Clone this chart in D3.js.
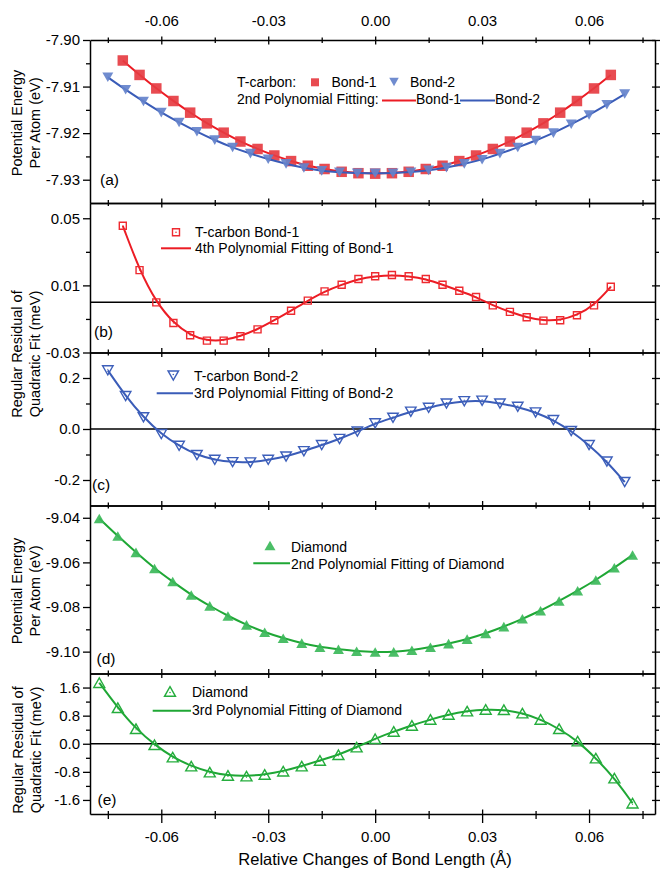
<!DOCTYPE html>
<html>
<head>
<meta charset="utf-8">
<script src="https://cdn.jsdelivr.net/npm/d3@7"></script>
<style>
  body { margin: 0; background: #fff; }
  svg text { font-family: "Liberation Sans", Arial, sans-serif; fill: #000; }
</style>
</head>
<body>
<svg id="chart" width="660" height="869"></svg>
<script>
// ---- Relative bond-length changes (Å) ----
const bond1Strain = [-0.0708, -0.0661, -0.0614, -0.0566, -0.0519, -0.0472, -0.0425, -0.0378, -0.0330, -0.0283,
  -0.0236, -0.0189, -0.0142, -0.0094, -0.0047, 0.0000, 0.0047, 0.0094, 0.0142, 0.0189,
  0.0236, 0.0283, 0.0330, 0.0378, 0.0425, 0.0472, 0.0519, 0.0566, 0.0614, 0.0661];
const bond2Strain = [-0.075, -0.070, -0.065, -0.060, -0.055, -0.050, -0.045, -0.040, -0.035, -0.030,
  -0.025, -0.020, -0.015, -0.010, -0.005, 0.000, 0.005, 0.010, 0.015, 0.020,
  0.025, 0.030, 0.035, 0.040, 0.045, 0.050, 0.055, 0.060, 0.065, 0.070];
const diamondStrain = [-0.0774, -0.0722, -0.0671, -0.0619, -0.0568, -0.0516, -0.0464, -0.0413, -0.0361, -0.0310,
  -0.0258, -0.0206, -0.0155, -0.0103, -0.0052, 0.0000, 0.0052, 0.0103, 0.0155, 0.0206,
  0.0258, 0.0310, 0.0361, 0.0413, 0.0464, 0.0516, 0.0568, 0.0619, 0.0671, 0.0722];

// ---- (a) T-carbon potential energy per atom (eV) ----
const bond1Energy = [-7.9044, -7.9075, -7.9104, -7.9131, -7.9156, -7.9179, -7.9199, -7.9218, -7.9234, -7.9248,
  -7.9260, -7.9270, -7.9277, -7.9283, -7.9286, -7.9287, -7.9286, -7.9283, -7.9277, -7.9270,
  -7.9260, -7.9248, -7.9234, -7.9218, -7.9199, -7.9179, -7.9156, -7.9131, -7.9104, -7.9075];
const bond2Energy = [-7.9080, -7.9107, -7.9132, -7.9156, -7.9177, -7.9197, -7.9215, -7.9231, -7.9244, -7.9256,
  -7.9266, -7.9275, -7.9281, -7.9284, -7.9286, -7.9286, -7.9286, -7.9284, -7.9280, -7.9274,
  -7.9266, -7.9257, -7.9244, -7.9231, -7.9216, -7.9200, -7.9181, -7.9161, -7.9139, -7.9116];

// ---- (b), (c) residuals of the quadratic fit (meV) ----
const bond1Residual = [0.0455, 0.0191, -0.0001, -0.0124, -0.0197, -0.0229, -0.0229, -0.0203, -0.0162, -0.0108,
  -0.0051, 0.0009, 0.0064, 0.0104, 0.0138, 0.0154, 0.0162, 0.0154, 0.0138, 0.0104,
  0.0068, 0.0031, -0.0019, -0.0058, -0.0090, -0.0110, -0.0108, -0.0078, -0.0019, 0.0092];
const bond2Residual = [0.230, 0.129, 0.046, -0.020, -0.066, -0.102, -0.121, -0.130, -0.131, -0.121,
  -0.108, -0.087, -0.063, -0.039, -0.010, 0.022, 0.044, 0.068, 0.083, 0.100,
  0.109, 0.111, 0.100, 0.087, 0.065, 0.035, -0.008, -0.063, -0.128, -0.208];

// ---- (d) diamond potential energy per atom (eV), (e) residual (meV) ----
const diamondEnergy = [-9.0403, -9.0482, -9.0555, -9.0627, -9.0686, -9.0746, -9.0795, -9.0840, -9.0880, -9.0913,
  -9.0940, -9.0962, -9.0980, -9.0989, -9.0998, -9.1002, -9.1001, -9.0994, -9.0980, -9.0964,
  -9.0944, -9.0918, -9.0888, -9.0853, -9.0817, -9.0773, -9.0727, -9.0679, -9.0624, -9.0567];
const diamondResidual = [1.737, 1.025, 0.427, -0.029, -0.381, -0.637, -0.808, -0.903, -0.922, -0.875,
  -0.780, -0.637, -0.476, -0.314, -0.096, 0.142, 0.350, 0.521, 0.692, 0.835,
  0.930, 0.977, 0.968, 0.873, 0.692, 0.427, 0.075, -0.409, -0.979, -1.691];

// ---- tick values ----
const strainTicks = [-0.06, -0.03, 0.00, 0.03, 0.06];
const strainMinorTicks = [-0.075, -0.045, -0.015, 0.015, 0.045, 0.075];
const ticksA = [-7.90, -7.91, -7.92, -7.93];
const minorA = [-7.905, -7.915, -7.925];
const ticksB = [0.05, 0.01, -0.03];
const minorB = [0.03, -0.01];
const ticksC = [0.2, 0.0, -0.2];
const minorC = [0.1, -0.1];
const ticksD = [-9.04, -9.06, -9.08, -9.10];
const minorD = [-9.05, -9.07, -9.09];
const ticksE = [1.6, 0.8, 0.0, -0.8, -1.6];
const minorE = [1.2, 0.4, -0.4, -1.2];

// ---- styling ----
const RED_FILL = "#e63c42", RED_LINE = "#ec1c24", RED_OPEN = "#ee2a30";
const BLUE_FILL = "#6482cb", BLUE_LINE = "#3a5cb8", BLUE_OPEN = "#3d5fba";
const GREEN_FILL = "#3cb95a", GREEN_LINE = "#1fa735", GREEN_OPEN = "#25ad3d";
const TICK_FONT = 15;

const svg = d3.select("#chart");
const L = 90, R = 655;
const x = d3.scaleLinear().domain([-0.08, 0.0785]).range([L, R]);

// custom marker shapes (centred on the bounding box)
function shape(kind) {
  return {
    draw(ctx, size) {
      const w = Math.sqrt(size), h = w * 0.87;
      if (kind === "square") { ctx.rect(-w / 2, -w / 2, w, w); }
      else if (kind === "up") { ctx.moveTo(0, -h / 2); ctx.lineTo(w / 2, h / 2); ctx.lineTo(-w / 2, h / 2); ctx.closePath(); }
      else { ctx.moveTo(-w / 2, -h / 2); ctx.lineTo(w / 2, -h / 2); ctx.lineTo(0, h / 2); ctx.closePath(); }
    }
  };
}
function marker(kind, w) { return d3.symbol().type(shape(kind)).size(w * w)(); }

const fmt = n => v => v.toFixed(n);

const panels = [
  { key: "a", top: 40, bottom: 203, domain: [-7.935, -7.90], ticks: ticksA, minor: minorA, fmt: fmt(2) },
  { key: "b", top: 203, bottom: 352.5, domain: [-0.03, 0.0591], ticks: ticksB, minor: minorB, fmt: fmt(2), zero: true },
  { key: "c", top: 352.5, bottom: 505.5, domain: [-0.3, 0.3], ticks: ticksC, minor: minorC, fmt: fmt(1), zero: true },
  { key: "d", top: 505.5, bottom: 673.5, domain: [-9.1098, -9.0345], ticks: ticksD, minor: minorD, fmt: fmt(2) },
  { key: "e", top: 673.5, bottom: 814, domain: [-2, 2], ticks: ticksE, minor: minorE, fmt: fmt(1), zero: true }
];

function styleAxis(g) {
  g.selectAll(".domain").attr("stroke", "#000").attr("stroke-width", 1.5);
  g.selectAll(".tick line").attr("stroke", "#000").attr("stroke-width", 1.3);
  g.selectAll(".tick text").attr("font-size", TICK_FONT).attr("fill", "#000")
    .attr("font-family", "'Liberation Sans', Arial, sans-serif");
}

const Y = {};
panels.forEach((p, i) => {
  const y = d3.scaleLinear().domain(p.domain).range([p.bottom, p.top]);
  Y[p.key] = y;
  const g = svg.append("g").attr("class", "panel-" + p.key);

  // zero reference line
  if (p.zero) {
    g.append("line").attr("x1", L).attr("x2", R).attr("y1", y(0)).attr("y2", y(0))
      .attr("stroke", "#000").attr("stroke-width", 1.5);
  }

  // left axis with labels
  g.append("g").attr("transform", `translate(${L},0)`)
    .call(d3.axisLeft(y).tickValues(p.ticks).tickSize(7).tickPadding(3).tickSizeOuter(0).tickFormat(p.fmt))
    .call(a => styleAxis(a));
  g.append("g").attr("transform", `translate(${L},0)`)
    .call(d3.axisLeft(y).tickValues(p.minor).tickSize(4).tickSizeOuter(0).tickFormat(""))
    .call(a => { styleAxis(a); a.select(".domain").remove(); });

  // right axis, ticks crossing the frame
  g.append("g").attr("transform", `translate(${R},0)`)
    .call(d3.axisRight(y).tickValues(p.ticks).tickSize(5).tickSizeOuter(0).tickFormat(""))
    .call(a => styleAxis(a));
  g.append("g").attr("transform", `translate(${R},0)`)
    .call(d3.axisLeft(y).tickValues(p.ticks).tickSize(3).tickSizeOuter(0).tickFormat(""))
    .call(a => { styleAxis(a); a.select(".domain").remove(); });
  g.append("g").attr("transform", `translate(${R},0)`)
    .call(d3.axisRight(y).tickValues(p.minor).tickSize(4).tickSizeOuter(0).tickFormat(""))
    .call(a => { styleAxis(a); a.select(".domain").remove(); });

  // inward ticks on the top and bottom frame lines
  g.append("g").attr("transform", `translate(0,${p.top})`)
    .call(d3.axisBottom(x).tickValues(strainTicks).tickSize(4.5).tickSizeOuter(0).tickFormat(""))
    .call(a => styleAxis(a));
  g.append("g").attr("transform", `translate(0,${p.top})`)
    .call(d3.axisBottom(x).tickValues(strainMinorTicks).tickSize(3).tickSizeOuter(0).tickFormat(""))
    .call(a => { styleAxis(a); a.select(".domain").remove(); });
  g.append("g").attr("transform", `translate(0,${p.bottom})`)
    .call(d3.axisTop(x).tickValues(strainTicks).tickSize(4.5).tickSizeOuter(0).tickFormat(""))
    .call(a => styleAxis(a));
  g.append("g").attr("transform", `translate(0,${p.bottom})`)
    .call(d3.axisTop(x).tickValues(strainMinorTicks).tickSize(3).tickSizeOuter(0).tickFormat(""))
    .call(a => { styleAxis(a); a.select(".domain").remove(); });

  if (i === 0) {
    // labelled top axis
    svg.append("g").attr("transform", `translate(0,${p.top})`)
      .call(d3.axisTop(x).tickValues(strainTicks).tickSize(3.5).tickPadding(10.5).tickSizeOuter(0).tickFormat(fmt(2)))
      .call(a => { styleAxis(a); a.select(".domain").remove(); });
    svg.append("g").attr("transform", `translate(0,${p.top})`)
      .call(d3.axisTop(x).tickValues(strainMinorTicks).tickSize(2.5).tickSizeOuter(0).tickFormat(""))
      .call(a => { styleAxis(a); a.select(".domain").remove(); });
  }
  if (i === panels.length - 1) {
    // labelled bottom axis
    svg.append("g").attr("transform", `translate(0,${p.bottom})`)
      .call(d3.axisBottom(x).tickValues(strainTicks).tickSize(9).tickPadding(8).tickSizeOuter(0).tickFormat(fmt(2)))
      .call(a => { styleAxis(a); a.select(".domain").remove(); });
    svg.append("g").attr("transform", `translate(0,${p.bottom})`)
      .call(d3.axisBottom(x).tickValues(strainMinorTicks).tickSize(5).tickSizeOuter(0).tickFormat(""))
      .call(a => { styleAxis(a); a.select(".domain").remove(); });
  }
});

// ---- series ----
function series(key, xs, ys, opt) {
  const y = Y[key];
  const pts = d3.zip(xs, ys);
  const g = svg.append("g");
  g.append("path").datum(pts)
    .attr("d", d3.line().x(d => x(d[0])).y(d => y(d[1])).curve(d3.curveBasis))
    .attr("fill", "none").attr("stroke", opt.line).attr("stroke-width", 2);
  const m = g.selectAll(null).data(pts).enter().append("g")
    .attr("transform", d => `translate(${x(d[0])},${y(d[1])})`);
  m.append("path").attr("d", marker(opt.shape, opt.size))
    .attr("fill", opt.open ? "none" : opt.fill)
    .attr("fill-opacity", opt.open ? null : 0.92)
    .attr("stroke", opt.open ? opt.stroke : "none")
    .attr("stroke-width", opt.open ? 1.4 : 0);
  if (opt.open) {
    m.append("circle").attr("r", 0.6).attr("fill", opt.stroke)
      .attr("cy", opt.shape === "up" ? 1 : opt.shape === "down" ? -1 : 0);
  }
}

series("a", bond1Strain, bond1Energy, { line: RED_LINE, fill: RED_FILL, shape: "square", size: 10.5 });
series("a", bond2Strain, bond2Energy, { line: BLUE_LINE, fill: BLUE_FILL, shape: "down", size: 11 });
series("b", bond1Strain, bond1Residual, { line: RED_LINE, stroke: RED_OPEN, shape: "square", size: 7, open: true });
series("c", bond2Strain, bond2Residual, { line: BLUE_LINE, stroke: BLUE_OPEN, shape: "down", size: 10.5, open: true });
series("d", diamondStrain, diamondEnergy, { line: GREEN_LINE, fill: GREEN_FILL, shape: "up", size: 11 });
series("e", diamondStrain, diamondResidual, { line: GREEN_LINE, stroke: GREEN_OPEN, shape: "up", size: 11, open: true });

// ---- legends ----
const leg = svg.append("g").attr("font-size", 14);
function legText(tx, ty, s) { leg.append("text").attr("x", tx).attr("y", ty).attr("font-size", 14).text(s); }
function legLine(x1, x2, ly, c) {
  leg.append("line").attr("x1", x1).attr("x2", x2).attr("y1", ly).attr("y2", ly).attr("stroke", c).attr("stroke-width", 2);
}
function legMarker(mx, my, kind, w, fill, stroke) {
  const g = leg.append("g").attr("transform", `translate(${mx},${my})`);
  g.append("path").attr("d", marker(kind, w))
    .attr("fill", fill || "none").attr("fill-opacity", fill ? 0.92 : null)
    .attr("stroke", stroke || "none").attr("stroke-width", stroke ? 1.4 : 0);
  if (stroke) g.append("circle").attr("r", 0.8).attr("fill", stroke)
    .attr("cy", kind === "up" ? 1 : kind === "down" ? -1 : 0);
}

// (a)
legText(237, 87, "T-carbon:");
legMarker(315, 82.3, "square", 8, RED_FILL);
legText(331.5, 87, "Bond-1");
legMarker(394, 82, "down", 9.5, BLUE_FILL);
legText(410, 87, "Bond-2");
legText(237, 104, "2nd Polynomial Fitting:");
legLine(382, 416, 100.5, RED_LINE);
legText(416, 104, "Bond-1");
legLine(460, 495, 100.5, BLUE_LINE);
legText(495, 104, "Bond-2");
// (b)
legMarker(176, 232.3, "square", 7, null, RED_OPEN);
legText(195, 237, "T-carbon Bond-1");
legLine(161, 191, 248.3, RED_LINE);
legText(195, 253, "4th Polynomial Fitting of Bond-1");
// (c)
legMarker(173.3, 375.5, "down", 10.5, null, BLUE_OPEN);
legText(194, 381, "T-carbon Bond-2");
legLine(156.7, 193, 393.3, BLUE_LINE);
legText(194, 398, "3rd Polynomial Fitting of Bond-2");
// (d)
legMarker(270, 545.5, "up", 11, GREEN_FILL);
legText(291, 551.5, "Diamond");
legLine(253.3, 290, 563.3, GREEN_LINE);
legText(291, 568.5, "2nd Polynomial Fitting of Diamond");
// (e)
legMarker(170, 691.5, "up", 11, null, GREEN_OPEN);
legText(192, 697, "Diamond");
legLine(152.7, 191, 710.7, GREEN_LINE);
legText(192, 715, "3rd Polynomial Fitting of Diamond");

// ---- panel tags ----
const tags = [["(a)", 100, 185], ["(b)", 94, 337], ["(c)", 92, 490], ["(d)", 96.5, 664], ["(e)", 97.5, 805]];
svg.selectAll(null).data(tags).enter().append("text")
  .attr("x", d => d[1]).attr("y", d => d[2]).attr("font-size", 15.5).text(d => d[0]);

// ---- axis titles ----
function yTitle(cy, l1, l2, b1, b2) {
  svg.append("text").attr("transform", `translate(${b1},${cy}) rotate(-90)`)
    .attr("text-anchor", "middle").attr("font-size", 14.5).text(l1);
  svg.append("text").attr("transform", `translate(${b2},${cy}) rotate(-90)`)
    .attr("text-anchor", "middle").attr("font-size", 14.5).text(l2);
}
yTitle(123, "Potential Energy", "Per Atom (eV)", 22, 40);
yTitle(354, "Regular Residual of", "Quadratic Fit (meV)", 22, 40);
yTitle(591, "Potential Energy", "Per Atom (eV)", 22, 40);
yTitle(750, "Regular Residual of", "Quadratic Fit (meV)", 23, 41);

svg.append("text").attr("x", 375).attr("y", 865).attr("text-anchor", "middle")
  .attr("font-size", 16.5).text("Relative Changes of Bond Length (Å)");
</script>
</body>
</html>
